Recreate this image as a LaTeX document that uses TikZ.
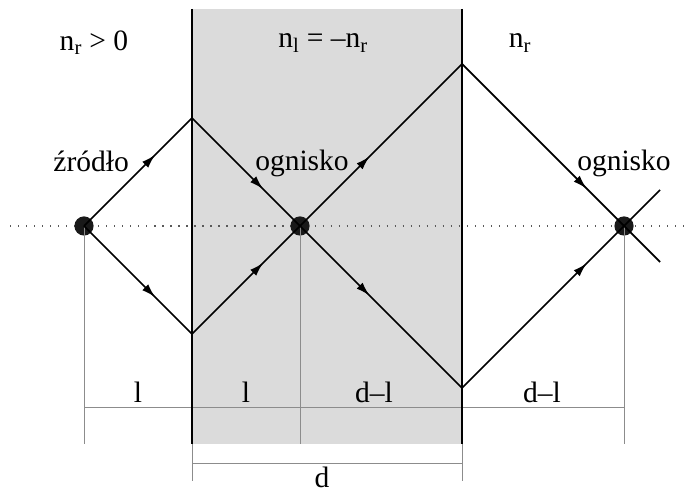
\documentclass[tikz,border=0pt]{standalone}
\usepackage{fontspec}
\setmainfont{Liberation Serif}
\usepackage{tikz}
\usetikzlibrary{arrows.meta,decorations.markings}
\definecolor{slabgray}{gray}{0.86}

\begin{document}
\begin{tikzpicture}[
        every node/.style={font=\fontsize{21}{25}\selectfont},
        ray/.style={draw=black, line width=1.25pt},
        midarrow/.style={postaction={decorate}, decoration={markings, mark=at position #1 with {\arrow{Latex[length=10pt,width=6pt]}}}},
        wall/.style={draw=black, line width=1.7pt},
        dimline/.style={draw=black!45, line width=0.6pt},
        axis/.style={draw=black!65, line width=0.9pt, dash pattern=on 0.9pt off 4.8pt},
        dot/.style={circle, fill=black!90, inner sep=0pt, minimum size=0.48cm},
        dimtext/.style={inner sep=3pt}
        ]
        \useasboundingbox (0,0) rectangle (17.2,12.325);

        % Slab with negative index
        \fill[slabgray] (4.8,1.225) rectangle (11.55,12.1);

        % Optical axis
        \coordinate (axl) at (0.25,6.675);
        \coordinate (axr) at (17.2,6.675);
        \draw[axis] (axl) -- (axr);

        % Points on the axis
        \node[dot] (src) at (2.1,6.675) {};
        \node[dot] (foc) at (7.5,6.675) {};
        \node[dot] (img) at (15.6,6.675) {};

        % Ray vertices on the slab walls
        \coordinate (ul) at (4.8,9.375);
        \coordinate (ll) at (4.8,3.975);
        \coordinate (ur) at (11.55,10.725);
        \coordinate (lr) at (11.55,2.625);
        \coordinate (xu) at (16.5,7.575);
        \coordinate (xd) at (16.5,5.775);

        % Dimension lines
        \coordinate (srcb) at (2.1,1.225);
        \coordinate (focb) at (7.5,1.225);
        \coordinate (imgb) at (15.6,1.225);
        \coordinate (dima) at (2.1,2.15);
        \coordinate (dimb) at (15.6,2.15);
        \draw[dimline] (src.center) -- (srcb);
        \draw[dimline] (foc.center) -- (focb);
        \draw[dimline] (img.center) -- (imgb);
        \draw[dimline] (dima) -- (dimb);
        \node[dimtext, above] (l1) at (3.45,2.15) {l};
        \node[dimtext, above] (l2) at (6.15,2.15) {l};
        \node[dimtext, above] (l3) at (9.35,2.15) {d–l};
        \node[dimtext, above] (l4) at (13.55,2.15) {d–l};

        \coordinate (wlt) at (4.8,12.1);
        \coordinate (wlb) at (4.8,1.225);
        \coordinate (wrt) at (11.55,12.1);
        \coordinate (wrb) at (11.55,1.225);
        \coordinate (tkl) at (4.8,0.3);
        \coordinate (tkr) at (11.55,0.3);
        \coordinate (ddl) at (4.8,0.75);
        \coordinate (ddr) at (11.55,0.75);
        \draw[dimline] (wlb) -- (tkl);
        \draw[dimline] (wrb) -- (tkr);
        \draw[dimline] (ddl) -- (ddr);
        \node (dlab) at (8.05,0.38) {d};

        % Slab walls
        \draw[wall] (wlt) -- (wlb);
        \draw[wall] (wrt) -- (wrb);

        % Rays
        \draw[ray, midarrow=0.66] (src.center) -- (ul);
        \draw[ray, midarrow=0.66] (src.center) -- (ll);
        \draw[ray, midarrow=0.66] (ul) -- (foc.center);
        \draw[ray, midarrow=0.66] (ll) -- (foc.center);
        \draw[ray, midarrow=0.43] (foc.center) -- (ur);
        \draw[ray, midarrow=0.43] (foc.center) -- (lr);
        \draw[ray, midarrow=0.77] (ur) -- (img.center);
        \draw[ray, midarrow=0.77] (lr) -- (img.center);
        \draw[ray] (img.center) -- (xu);
        \draw[ray] (img.center) -- (xd);

        % Labels
        \node (nout) at (2.35,11.25) {n\textsubscript{r} > 0};
        \node (nslab) at (8.08,11.25) {n\textsubscript{l} = –n\textsubscript{r}};
        \node (nright) at (13.0,11.25) {n\textsubscript{r}};
        \node (srclab) at (2.28,8.3) {źródło};
        \node (foclab) at (7.55,8.25) {ognisko};
        \node (imglab) at (15.6,8.25) {ognisko};

    \end{tikzpicture}
\end{document}
